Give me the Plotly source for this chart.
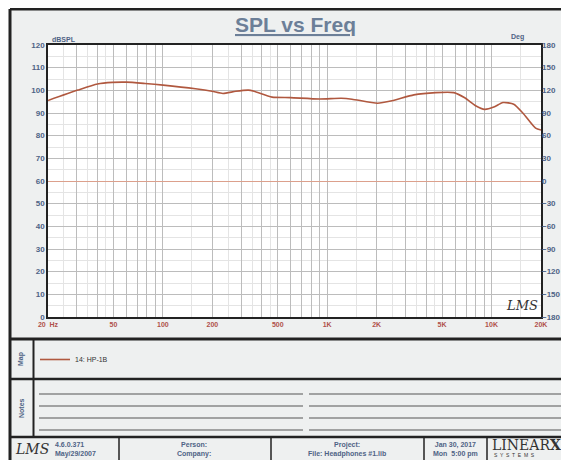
import plotly.graph_objects as go

# ---------------- data ----------------
freq_hz = [20, 30.4, 40, 49.3, 60, 77.9, 100.4, 158, 199, 232, 278, 332, 359, 462, 597,
           897, 1217, 1416, 2023, 2480, 3367, 4572, 5900, 6873, 8000, 9090, 10330,
           11730, 13650, 15510, 18540, 20000]
spl_db = [95.5, 100.1, 102.8, 103.5, 103.6, 103.0, 102.3, 100.7, 99.6, 98.6, 99.6, 100.1,
          99.6, 97.0, 96.8, 96.2, 96.5, 96.1, 94.3, 95.4, 98.0, 99.0, 99.0, 96.7, 93.2,
          91.6, 92.6, 94.6, 93.9, 90.0, 83.3, 82.5]
series_name = "14: HP-1B"

x_major = [20, 30, 40, 50, 60, 70, 80, 90, 100, 200, 300, 400, 500, 600, 700, 800, 900,
           1000, 2000, 3000, 4000, 5000, 6000, 7000, 8000, 9000, 10000, 20000]
x_labels = {20: "20  Hz", 50: "50", 100: "100", 200: "200", 500: "500", 1000: "1K",
            2000: "2K", 5000: "5K", 10000: "10K", 20000: "20K"}
x_minor = [25, 35, 45, 150, 250, 350, 450, 1500, 2500, 3500, 4500, 15000]
spl_ticks = list(range(0, 121, 10))
deg_ticks = list(range(-180, 181, 30))

# ---------------- helpers ----------------
# the page body has an 8px margin, so the figure is 8px smaller and shifted
OFF = 8
W, H = 569 - OFF, 460 - OFF
def px(x):
    return (x - OFF) / W
def py(y):
    return 1 - (y - OFF) / H

BG = "#eef0f0"
DARK = "#222222"
SLATE = "#4f6385"
BROWN = "#b0583f"
FONT = "Liberation Sans, Arial, sans-serif"

fig = go.Figure()
fig.add_trace(go.Scatter(x=freq_hz, y=spl_db, mode="lines", name=series_name,
                         line=dict(color=BROWN, width=1.6, shape="spline", smoothing=0.6),
                         xaxis="x", yaxis="y"))
# invisible trace to activate the right (phase) axis
fig.add_trace(go.Scatter(x=[20, 20000], y=[None, None], yaxis="y2", showlegend=False,
                         hoverinfo="skip"))

shapes = []
# white strips outside the page frame (left and top)
shapes.append(dict(type="rect", xref="paper", yref="paper", x0=-0.05, x1=px(10),
                   y0=-0.05, y1=1.05, fillcolor="white", line=dict(width=0), layer="below"))
shapes.append(dict(type="rect", xref="paper", yref="paper", x0=-0.05, x1=1.05,
                   y0=py(9), y1=1.05, fillcolor="white", line=dict(width=0), layer="below"))
# frame lines
shapes.append(dict(type="line", xref="paper", yref="paper", x0=px(10), x1=px(10),
                   y0=py(9), y1=-0.05, line=dict(color=DARK, width=3)))
shapes.append(dict(type="line", xref="paper", yref="paper", x0=px(10), x1=1.05,
                   y0=py(9), y1=py(9), line=dict(color=DARK, width=3)))
# horizontal section dividers
for yy, w in [(339, 3), (379, 2.5), (437, 2.5)]:
    shapes.append(dict(type="line", xref="paper", yref="paper", x0=px(10), x1=1.05,
                       y0=py(yy), y1=py(yy), line=dict(color=DARK, width=w)))
# left label column divider (Map / Notes)
shapes.append(dict(type="line", xref="paper", yref="paper", x0=px(33.5), x1=px(33.5),
                   y0=py(339), y1=py(437), line=dict(color=DARK, width=2)))
# footer dividers
for xx in [119, 271, 424, 487]:
    shapes.append(dict(type="line", xref="paper", yref="paper", x0=px(xx), x1=px(xx),
                       y0=py(437), y1=-0.05, line=dict(color=DARK, width=1.5)))
# notes lines
for yy in [394, 406, 418, 430]:
    shapes.append(dict(type="line", xref="paper", yref="paper", x0=px(39), x1=px(303),
                       y0=py(yy), y1=py(yy), line=dict(color="#555555", width=1)))
    shapes.append(dict(type="line", xref="paper", yref="paper", x0=px(309), x1=1.05,
                       y0=py(yy), y1=py(yy), line=dict(color="#555555", width=1)))

tf = dict(family=FONT, size=8, color=SLATE, weight="bold")
small = dict(family=FONT, size=7, color=SLATE, weight="bold")

def ann(text, x, y, font, xanchor="center", **kw):
    return dict(text=text, x=px(x), y=py(y), xref="paper", yref="paper",
                xanchor=xanchor, yanchor="middle", showarrow=False, font=font, **kw)

annotations = [
    ann("<b><u>SPL vs Freq</u></b>", 295, 24, dict(family=FONT, size=21, color="#6c7f98")),
    ann("dBSPL", 50, 39, small, "left"),
    ann("Deg", 526, 37, small, "right"),
    ann("LMS", 522, 305, dict(family="DejaVu Serif", size=13, color="#333333",
                             style="italic")),
    ann("Map", 21, 359, small, textangle=-90),
    ann("Notes", 21, 408, small, textangle=-90),
    ann("LMS", 32, 449, dict(family="DejaVu Serif", size=14, color="#333333",
                            style="italic")),
    ann("4.6.0.371<br>May/29/2007", 53, 449, small, "left", align="left"),
    ann("Person:<br>Company:", 194, 449, small),
    ann("Project:<br>File: Headphones #1.lib", 347, 449, small),
    ann("Jan 30, 2017<br>Mon  5:00 pm", 455, 449, small),
    ann("LINEAR<b>X</b>", 490, 445, dict(family="DejaVu Serif", size=14, color="#333333"),
        "left"),
    ann("S  Y  S  T  E  M  S", 492, 455, dict(family=FONT, size=5, color="#333333"),
        "left"),
]

fig.update_layout(
    width=W, height=H, margin=dict(l=0, r=0, t=0, b=0, autoexpand=False),
    paper_bgcolor=BG, plot_bgcolor="white",
    shapes=shapes, annotations=annotations,
    showlegend=True,
    legend=dict(x=px(35), y=py(345), xanchor="left", yanchor="top",
                bgcolor="rgba(0,0,0,0)", font=dict(family=FONT, size=7, color="#333333"),
                itemwidth=30, tracegroupgap=0),
    xaxis=dict(type="log", range=[1.30103, 4.30103], domain=[px(48), px(541)],
               tickmode="array", tickvals=x_major,
               ticktext=[x_labels.get(v, "") for v in x_major],
               tickfont=dict(family=FONT, size=7, color="#b0504a", weight="bold"),
               showgrid=True, gridcolor="#bcbcbc", gridwidth=1,
               minor=dict(tickmode="array", tickvals=x_minor, showgrid=True,
                          gridcolor="#e4e4e4", ticks=""),
               showline=True, linecolor=DARK, linewidth=1.5, mirror=True,
               ticks="", zeroline=False, anchor="y", automargin=False),
    yaxis=dict(range=[0, 120], domain=[py(317), py(45)], tickmode="array",
               tickvals=spl_ticks, tickfont=tf, showgrid=True, gridcolor="#bcbcbc",
               minor=dict(dtick=5, showgrid=True, gridcolor="#e4e4e4", ticks=""),
               showline=True, linecolor=DARK, linewidth=1.5, mirror=True,
               ticks="", zeroline=False, automargin=False),
    yaxis2=dict(range=[-180, 180], overlaying="y", side="right", tickmode="array",
                tickvals=deg_ticks, tickfont=tf, showgrid=False, zeroline=True,
                zerolinecolor="#dca08c", zerolinewidth=1, ticks="", showline=False,
                automargin=False),
)

fig.write_html("out.html")
